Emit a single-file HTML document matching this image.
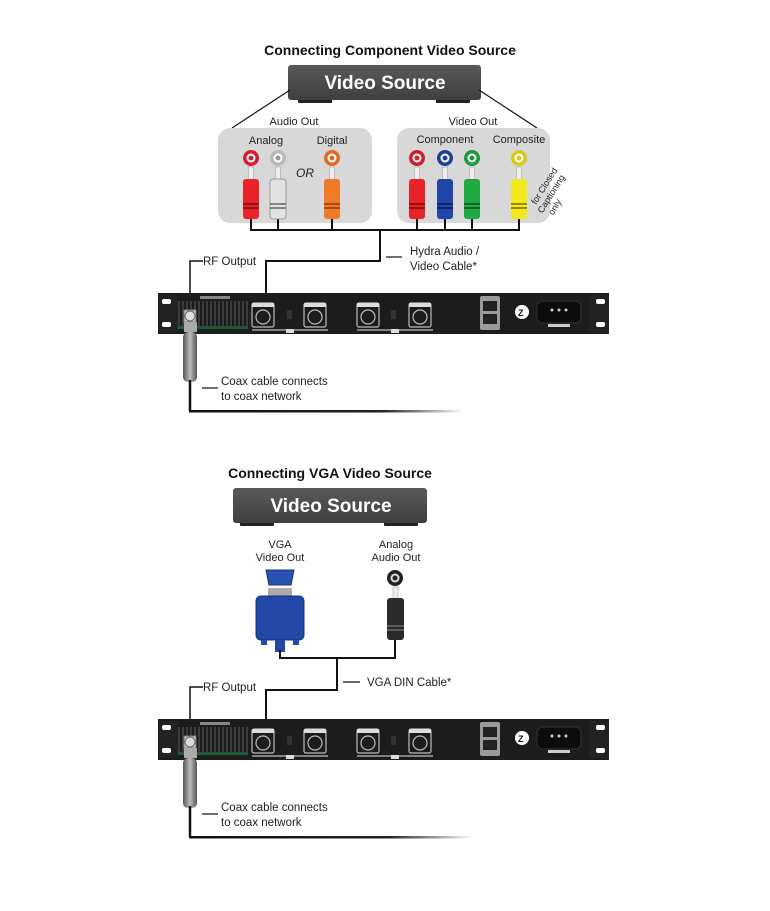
<!DOCTYPE html>
<html><head><meta charset="utf-8"><style>
html,body{margin:0;padding:0;background:#fff;}
svg{display:block;font-family:"Liberation Sans",sans-serif;}
</style></head><body>
<svg width="770" height="911" viewBox="0 0 770 911" xmlns="http://www.w3.org/2000/svg">
<defs>
<linearGradient id="box" x1="0" y1="0" x2="0" y2="1"><stop offset="0" stop-color="#5a5a5a"/><stop offset="1" stop-color="#3f3f3f"/></linearGradient>
<linearGradient id="fade" x1="0" y1="0" x2="1" y2="0"><stop offset="0" stop-color="#111"/><stop offset="0.7" stop-color="#222"/><stop offset="1" stop-color="#fff"/></linearGradient>
<linearGradient id="coax" x1="0" y1="0" x2="1" y2="0"><stop offset="0" stop-color="#555"/><stop offset="0.5" stop-color="#bbb"/><stop offset="1" stop-color="#555"/></linearGradient>
<g id="rack">
  <rect x="0" y="0" width="451" height="41" fill="#1c1c1c"/>
  <rect x="0" y="2" width="20" height="37" fill="#222"/>
  <rect x="431" y="2" width="20" height="37" fill="#222"/>
  <rect x="4" y="6" width="9" height="5" rx="2" fill="#fff"/>
  <rect x="4" y="29" width="9" height="5" rx="2" fill="#fff"/>
  <rect x="438" y="6" width="9" height="5" rx="2" fill="#fff"/>
  <rect x="438" y="29" width="9" height="5" rx="2" fill="#fff"/>
  <g stroke="#444" stroke-width="1.6">
    <path d="M21 8V34M25 8V34M29 8V34M33 8V34M37 8V34M41 8V34M45 8V34M49 8V34M53 8V34M57 8V34M61 8V34M65 8V34M69 8V34M73 8V34M77 8V34M81 8V34M85 8V34M89 8V34"/>
  </g>
  <rect x="20" y="33" width="70" height="3" fill="#1f5a38"/>
  <rect x="42" y="3" width="30" height="3" fill="#888"/>
  <g fill="none" stroke="#bbb" stroke-width="1.2">
    <rect x="94" y="10" width="22" height="24" rx="2"/><circle cx="105" cy="24" r="7"/>
    <rect x="146" y="10" width="22" height="24" rx="2"/><circle cx="157" cy="24" r="7"/>
    <rect x="199" y="10" width="22" height="24" rx="2"/><circle cx="210" cy="24" r="7"/>
    <rect x="251" y="10" width="22" height="24" rx="2"/><circle cx="262" cy="24" r="7"/>
    <path d="M94 37H170M199 37H275"/>
  </g>
  <g fill="#ddd"><rect x="94" y="10" width="22" height="4"/><rect x="146" y="10" width="22" height="4"/><rect x="199" y="10" width="22" height="4"/><rect x="251" y="10" width="22" height="4"/>
  <rect x="128" y="36" width="8" height="4"/><rect x="233" y="36" width="8" height="4"/></g>
  <g fill="#333"><rect x="129" y="17" width="5" height="9"/><rect x="233" y="17" width="5" height="9"/></g>
  <rect x="322" y="3" width="20" height="34" rx="2" fill="#9a9a9a"/>
  <rect x="325" y="8" width="14" height="10" fill="#222"/><rect x="325" y="21" width="14" height="10" fill="#222"/>
  <circle cx="364" cy="19" r="7" fill="#fff"/><text x="360" y="23" font-size="9" font-weight="bold" fill="#111">Z</text>
  <rect x="379" y="8" width="44" height="22" rx="6" fill="#0c0c0c" stroke="#333"/>
  <circle cx="394" cy="17" r="1.5" fill="#ccc"/><circle cx="401" cy="17" r="1.5" fill="#ccc"/><circle cx="408" cy="17" r="1.5" fill="#ccc"/>
  <rect x="390" y="31" width="22" height="3" fill="#ccc"/>
</g>
<g id="coaxg">
  <rect x="27" y="17" width="12" height="12" fill="#ccc" stroke="#777"/>
  <circle cx="33" cy="23" r="5" fill="#ddd" stroke="#666"/>
  <rect x="27" y="29" width="13" height="10" fill="#aaa"/>
  <rect x="26" y="39" width="14" height="50" rx="5" fill="url(#coax)"/>
</g>
</defs>

<!-- TOP SECTION -->
<text x="390" y="55" font-size="14" font-weight="bold" text-anchor="middle" fill="#111">Connecting Component Video Source</text>
<rect x="298" y="98" width="34" height="5" rx="1" fill="#222"/><rect x="436" y="98" width="34" height="5" rx="1" fill="#222"/>
<rect x="288" y="65" width="193" height="35" rx="3" fill="url(#box)"/>
<text x="385" y="89" font-size="19" font-weight="bold" fill="#fff" text-anchor="middle">Video Source</text>
<path d="M290 90L232 128M479 90L537 128" stroke="#111" stroke-width="1.2"/>
<text x="294" y="125" font-size="11" text-anchor="middle" fill="#222">Audio Out</text>
<text x="473" y="125" font-size="11" text-anchor="middle" fill="#222">Video Out</text>
<rect x="218" y="128" width="154" height="95" rx="12" fill="#d8d8d8"/>
<rect x="397" y="128" width="153" height="95" rx="12" fill="#d8d8d8"/>
<text x="266" y="144" font-size="11" text-anchor="middle" fill="#222">Analog</text>
<text x="332" y="144" font-size="11" text-anchor="middle" fill="#222">Digital</text>
<text x="445" y="143" font-size="11" text-anchor="middle" fill="#222">Component</text>
<text x="519" y="143" font-size="11" text-anchor="middle" fill="#222">Composite</text>
<text x="305" y="177" font-size="12" font-style="italic" text-anchor="middle" fill="#222">OR</text>
<text transform="translate(536,205) rotate(-58)" font-size="9" fill="#222"><tspan x="0" y="0">for Closed</tspan><tspan x="-4" y="10">Captioning</tspan><tspan x="0" y="20">only</tspan></text>
<!-- bus -->
<path d="M251 219V230H519V219M278 219V230M332 219V230M417 219V230M445 219V230M472 219V230M380 230V261H266V296" fill="none" stroke="#111" stroke-width="2"/>
<!-- plugs -->
<g>
<g transform="translate(251,0)"><circle cy="158" r="8" fill="#d21f2b"/><circle cy="158" r="4.5" fill="#fff"/><circle cy="158" r="2.5" fill="#d21f2b"/><rect x="-2.5" y="167" width="5" height="13" fill="#eee" stroke="#999" stroke-width=".5"/><rect x="-8" y="179" width="16" height="40" rx="3" fill="#e8232a"/><path d="M-8 204H8M-8 208H8" stroke="#7a1010" stroke-width="1.5"/></g>
<g transform="translate(278,0)"><circle cy="158" r="8" fill="#bbb"/><circle cy="158" r="4.5" fill="#fff"/><circle cy="158" r="2.5" fill="#999"/><rect x="-2.5" y="167" width="5" height="13" fill="#eee" stroke="#999" stroke-width=".5"/><rect x="-8" y="179" width="16" height="40" rx="3" fill="#e2e2e2" stroke="#888" stroke-width=".8"/><path d="M-8 204H8M-8 208H8" stroke="#666" stroke-width="1.5"/></g>
<g transform="translate(332,0)"><circle cy="158" r="8" fill="#e06a25"/><circle cy="158" r="4.5" fill="#fff"/><circle cy="158" r="2.5" fill="#e06a25"/><rect x="-2.5" y="167" width="5" height="13" fill="#eee" stroke="#999" stroke-width=".5"/><rect x="-8" y="179" width="16" height="40" rx="3" fill="#f07a28"/><path d="M-8 204H8M-8 208H8" stroke="#8a3a10" stroke-width="1.5"/></g>
<g transform="translate(417,0)"><circle cy="158" r="8" fill="#d21f2b"/><circle cy="158" r="4.5" fill="#fff"/><circle cy="158" r="2.5" fill="#d21f2b"/><rect x="-2.5" y="167" width="5" height="13" fill="#eee" stroke="#999" stroke-width=".5"/><rect x="-8" y="179" width="16" height="40" rx="3" fill="#e8232a"/><path d="M-8 204H8M-8 208H8" stroke="#7a1010" stroke-width="1.5"/></g>
<g transform="translate(445,0)"><circle cy="158" r="8" fill="#1f3f9a"/><circle cy="158" r="4.5" fill="#fff"/><circle cy="158" r="2.5" fill="#1f3f9a"/><rect x="-2.5" y="167" width="5" height="13" fill="#eee" stroke="#999" stroke-width=".5"/><rect x="-8" y="179" width="16" height="40" rx="3" fill="#1f46a8"/><path d="M-8 204H8M-8 208H8" stroke="#0a1c50" stroke-width="1.5"/></g>
<g transform="translate(472,0)"><circle cy="158" r="8" fill="#1a9a3a"/><circle cy="158" r="4.5" fill="#fff"/><circle cy="158" r="2.5" fill="#1a9a3a"/><rect x="-2.5" y="167" width="5" height="13" fill="#eee" stroke="#999" stroke-width=".5"/><rect x="-8" y="179" width="16" height="40" rx="3" fill="#1eaa40"/><path d="M-8 204H8M-8 208H8" stroke="#0a4a1a" stroke-width="1.5"/></g>
<g transform="translate(519,0)"><circle cy="158" r="8" fill="#d8c818"/><circle cy="158" r="4.5" fill="#fff"/><circle cy="158" r="2.5" fill="#d8c818"/><rect x="-2.5" y="167" width="5" height="13" fill="#eee" stroke="#999" stroke-width=".5"/><rect x="-8" y="179" width="16" height="40" rx="3" fill="#f2e81a"/><path d="M-8 204H8M-8 208H8" stroke="#7a6a00" stroke-width="1.5"/></g>
</g>
<path d="M386 257H402" stroke="#111" stroke-width="1.2"/>
<text x="410" y="255" font-size="11.5" fill="#222">Hydra Audio /</text>
<text x="410" y="270" font-size="11.5" fill="#222">Video Cable*</text>
<path d="M203 261H190V308" fill="none" stroke="#111" stroke-width="1.5"/>
<text x="203" y="265" font-size="11.5" fill="#222">RF Output</text>
<use href="#rack" x="158" y="293"/>
<use href="#coaxg" x="157" y="293"/>
<path d="M190 380V411" stroke="#111" stroke-width="2.5"/>
<rect x="189" y="410" width="275" height="2.5" fill="url(#fade)"/>
<path d="M202 388H218" stroke="#111" stroke-width="1.2"/>
<text x="221" y="385" font-size="11.5" fill="#222">Coax cable connects</text>
<text x="221" y="400" font-size="11.5" fill="#222">to coax network</text>

<!-- BOTTOM SECTION -->
<text x="330" y="478" font-size="14" font-weight="bold" text-anchor="middle" fill="#111">Connecting VGA Video Source</text>
<rect x="240" y="520" width="34" height="6" rx="1" fill="#222"/><rect x="384" y="520" width="34" height="6" rx="1" fill="#222"/>
<rect x="233" y="488" width="194" height="35" rx="3" fill="url(#box)"/>
<text x="331" y="512" font-size="19" font-weight="bold" fill="#fff" text-anchor="middle">Video Source</text>
<text x="280" y="548" font-size="11" text-anchor="middle" fill="#222">VGA</text>
<text x="280" y="561" font-size="11" text-anchor="middle" fill="#222">Video Out</text>
<text x="396" y="548" font-size="11" text-anchor="middle" fill="#222">Analog</text>
<text x="396" y="561" font-size="11" text-anchor="middle" fill="#222">Audio Out</text>
<!-- VGA -->
<path d="M266 570H294L291 585H269Z" fill="#2a52b0" stroke="#1a347a"/>
<rect x="268" y="588" width="24" height="9" fill="#aaa"/>
<rect x="256" y="596" width="48" height="44" rx="5" fill="#2448a8" stroke="#16307a"/>
<rect x="261" y="640" width="6" height="5" fill="#2448a8"/><rect x="293" y="640" width="6" height="5" fill="#2448a8"/>
<rect x="275" y="640" width="10" height="12" fill="#2448a8"/>
<circle cx="395" cy="578" r="8" fill="#222"/><circle cx="395" cy="578" r="4.5" fill="#ddd"/><circle cx="395" cy="578" r="2.5" fill="#222"/>
<rect x="393" y="587" width="5" height="12" fill="#eee" stroke="#999" stroke-width=".5"/>
<rect x="387" y="598" width="17" height="42" rx="3" fill="#2a2a2a"/>
<path d="M387 626H404M387 630H404" stroke="#777" stroke-width="1.2"/>
<path d="M280 650V658H395V640M337 658V690H266V722" fill="none" stroke="#111" stroke-width="2"/>
<path d="M343 682H360" stroke="#111" stroke-width="1.2"/>
<text x="367" y="686" font-size="11.5" fill="#222">VGA DIN Cable*</text>
<path d="M203 687H190V734" fill="none" stroke="#111" stroke-width="1.5"/>
<text x="203" y="691" font-size="11.5" fill="#222">RF Output</text>
<use href="#rack" x="158" y="719"/>
<use href="#coaxg" x="157" y="719"/>
<path d="M190 806V837" stroke="#111" stroke-width="2.5"/>
<rect x="189" y="836" width="285" height="2.5" fill="url(#fade)"/>
<path d="M202 814H218" stroke="#111" stroke-width="1.2"/>
<text x="221" y="811" font-size="11.5" fill="#222">Coax cable connects</text>
<text x="221" y="826" font-size="11.5" fill="#222">to coax network</text>
</svg>
</body></html>
